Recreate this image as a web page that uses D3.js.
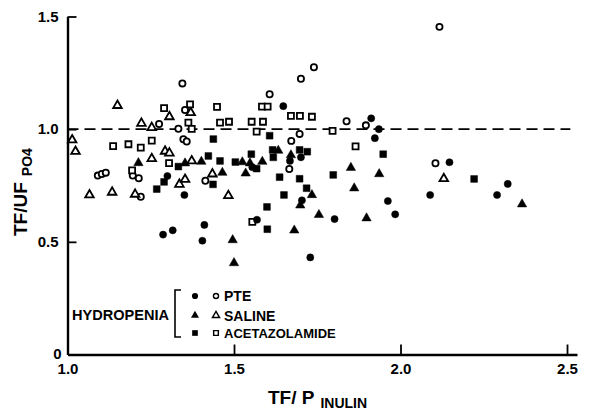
<!DOCTYPE html>
<html><head><meta charset="utf-8">
<script src="https://cdn.jsdelivr.net/npm/d3@7"></script>
<style>
html,body{margin:0;padding:0;background:#fff;}
svg{display:block;}
text{font-family:"Liberation Sans",Arial,sans-serif;font-weight:bold;fill:#000;}
</style></head>
<body>
<svg id="chart" width="591" height="410"></svg>
<script>
// ---- data: [TF/P inulin, TF/UF PO4] ----
const pteFilled = [[1.648,1.102],[1.912,1.048],[1.935,1.000],[1.923,0.960],[1.701,0.875],[1.668,0.859],[1.555,0.831],[1.300,0.792],[1.351,0.708],[1.704,0.684],[1.962,0.681],[1.984,0.622],[1.802,0.601],[1.569,0.598],[1.411,0.575],[1.316,0.551],[1.287,0.532],[1.405,0.505],[1.729,0.431],[2.147,0.853],[2.322,0.757],[2.089,0.708],[2.290,0.708]];
const pteOpen = [[1.345,1.203],[1.740,1.275],[1.701,1.224],[1.607,1.155],[2.117,1.454],[1.353,1.085],[1.275,1.023],[1.333,1.002],[1.348,0.955],[1.358,0.945],[1.838,1.035],[1.896,1.017],[1.697,0.979],[1.672,0.948],[1.414,0.771],[1.666,0.823],[1.091,0.794],[1.103,0.801],[1.115,0.807],[1.196,0.794],[1.214,0.782],[1.220,0.700],[2.105,0.849]];
const salineFilled = [[1.213,0.850],[1.353,0.849],[1.402,0.856],[1.465,0.807],[1.525,0.854],[1.548,0.849],[1.585,0.856],[1.535,0.804],[1.671,0.885],[1.633,0.905],[1.851,0.829],[1.936,0.801],[1.861,0.738],[1.734,0.708],[1.699,0.662],[1.755,0.620],[1.681,0.551],[1.898,0.605],[1.496,0.508],[1.500,0.406],[2.365,0.667]];
const salineOpen = [[1.150,1.105],[1.306,1.055],[1.370,1.073],[1.222,1.026],[1.253,1.007],[1.014,0.952],[1.024,0.901],[1.293,0.902],[1.306,0.894],[1.253,0.869],[1.373,0.859],[1.435,0.801],[1.336,0.755],[1.353,0.777],[1.066,0.708],[1.134,0.720],[1.203,0.711],[1.483,0.705],[2.130,0.780]];
const acetFilled = [[1.438,0.956],[1.423,0.881],[1.458,0.859],[1.504,0.854],[1.333,0.834],[1.290,0.766],[1.268,0.734],[1.437,0.755],[1.607,0.971],[1.552,0.889],[1.616,0.908],[1.618,0.875],[1.697,0.908],[1.720,0.900],[1.568,0.825],[1.637,0.787],[1.697,0.780],[1.798,0.797],[1.948,0.889],[1.718,0.738],[1.650,0.708],[1.599,0.655],[1.600,0.556],[2.221,0.779]];
const acetOpen = [[1.290,1.093],[1.368,1.110],[1.449,1.099],[1.363,1.029],[1.373,1.001],[1.458,1.029],[1.485,1.033],[1.584,1.100],[1.601,1.100],[1.671,1.059],[1.698,1.059],[1.734,1.055],[1.553,1.033],[1.587,1.033],[1.568,0.989],[1.796,0.992],[1.865,0.924],[1.137,0.925],[1.183,0.933],[1.220,0.918],[1.253,0.949],[1.305,0.849],[1.194,0.817],[1.555,0.589]];

const xTicks = [1.0, 1.5, 2.0, 2.5];
const yTicks = [0.5, 1.0, 1.5];
const refLine = 1.0;
const legendGroup = "HYDROPENIA";
const legendLabels = ["PTE", "SALINE", "ACETAZOLAMIDE"];

// ---- drawing ----
const svg = d3.select("#chart");
const x = d3.scaleLinear().domain([1, 2.53]).range([67.5, 577]);
const y = d3.scaleLinear().domain([0, 1.5]).range([354.5, 16.5]);

// x axis
const xa = svg.append("g").attr("transform", `translate(0,${y(0)})`)
  .call(d3.axisBottom(x).tickValues(xTicks).tickSizeInner(-10).tickSizeOuter(0).tickPadding(9).tickFormat(d3.format(".1f")));
xa.select(".domain").attr("stroke", "#000").attr("stroke-width", 2.4);
xa.selectAll(".tick line").attr("stroke", "#000").attr("stroke-width", 1.8);
xa.selectAll(".tick text").style("font-size", "15px").style("font-family", "Liberation Sans, Arial, sans-serif").style("font-weight", "bold");
xa.selectAll(".tick").filter(d => d === 1).select("line").remove();

// y axis
const ya = svg.append("g").attr("transform", `translate(${x(1)},0)`)
  .call(d3.axisLeft(y).tickValues(yTicks).tickSizeInner(-9).tickSizeOuter(0).tickPadding(9).tickFormat(d3.format(".1f")));
ya.select(".domain").attr("stroke", "#000").attr("stroke-width", 2.4);
ya.selectAll(".tick line").attr("stroke", "#000").attr("stroke-width", 1.8);
ya.selectAll(".tick text").style("font-size", "15px").style("font-family", "Liberation Sans, Arial, sans-serif").style("font-weight", "bold");

svg.append("text").attr("x", x(1) - 6).attr("y", y(0) + 4).attr("text-anchor", "end")
  .style("font-size", "15px").text("0");

// reference dashed line
svg.append("line").attr("x1", x(1)).attr("x2", x(2.51)).attr("y1", y(refLine)).attr("y2", y(refLine))
  .attr("stroke", "#000").attr("stroke-width", 1.8).attr("stroke-dasharray", "11,6");

// symbols
const sym = {
  circle: d3.symbol().type(d3.symbolCircle).size(40)(),
  circleO: d3.symbol().type(d3.symbolCircle).size(30)(),
  square: d3.symbol().type(d3.symbolSquare).size(46)(),
  squareO: d3.symbol().type(d3.symbolSquare).size(36)(),
  tri: d3.symbol().type(d3.symbolTriangle).size(38)(),
  triO: d3.symbol().type(d3.symbolTriangle).size(32)()
};
function drawSeries(data, path, filled) {
  svg.append("g").selectAll("path").data(data).join("path")
    .attr("d", path)
    .attr("transform", d => `translate(${x(d[0])},${y(d[1])})`)
    .attr("fill", filled ? "#000" : "#fff")
    .attr("stroke", "#000")
    .attr("stroke-width", filled ? 0.5 : 1.8);
}
drawSeries(pteOpen, sym.circleO, false);
drawSeries(salineOpen, sym.triO, false);
drawSeries(acetOpen, sym.squareO, false);
drawSeries(pteFilled, sym.circle, true);
drawSeries(salineFilled, sym.tri, true);
drawSeries(acetFilled, sym.square, true);

// axis titles
const xt = svg.append("text").attr("x", 268).attr("y", 404).style("font-size", "19px");
xt.append("tspan").text("TF/ P");
xt.append("tspan").attr("dx", 6).attr("dy", 4).style("font-size", "14px").text("INULIN");

const yt = svg.append("text").attr("transform", "translate(27,236) rotate(-90)").style("font-size", "19px");
yt.append("tspan").text("TF/UF");
yt.append("tspan").attr("dx", 6).attr("dy", 5).style("font-size", "14px").text("PO4");

// legend
const lg = svg.append("g");
lg.append("text").attr("x", 72).attr("y", 320).style("font-size", "14px").attr("textLength", 97).attr("lengthAdjust", "spacingAndGlyphs").text(legendGroup);
lg.append("path").attr("d", "M181,290 H175 V337 H181").attr("fill", "none").attr("stroke", "#000").attr("stroke-width", 1.6);
const rowsY = [296, 315.5, 333];
const labelSize = [14, 14, 13];
const legSyms = [
  [d3.symbol().type(d3.symbolCircle).size(30)(), d3.symbol().type(d3.symbolCircle).size(20)()],
  [d3.symbol().type(d3.symbolTriangle).size(28)(), d3.symbol().type(d3.symbolTriangle).size(22)()],
  [d3.symbol().type(d3.symbolSquare).size(32)(), d3.symbol().type(d3.symbolSquare).size(22)()]
];
legendLabels.forEach((lab, i) => {
  lg.append("path").attr("d", legSyms[i][0]).attr("transform", `translate(195,${rowsY[i]})`).attr("fill", "#000");
  lg.append("path").attr("d", legSyms[i][1]).attr("transform", `translate(216,${rowsY[i]})`)
    .attr("fill", "#fff").attr("stroke", "#000").attr("stroke-width", 1.4);
  lg.append("text").attr("x", 224).attr("y", rowsY[i] + 5).style("font-size", labelSize[i] + "px").text(lab);
});
</script>
</body></html>
